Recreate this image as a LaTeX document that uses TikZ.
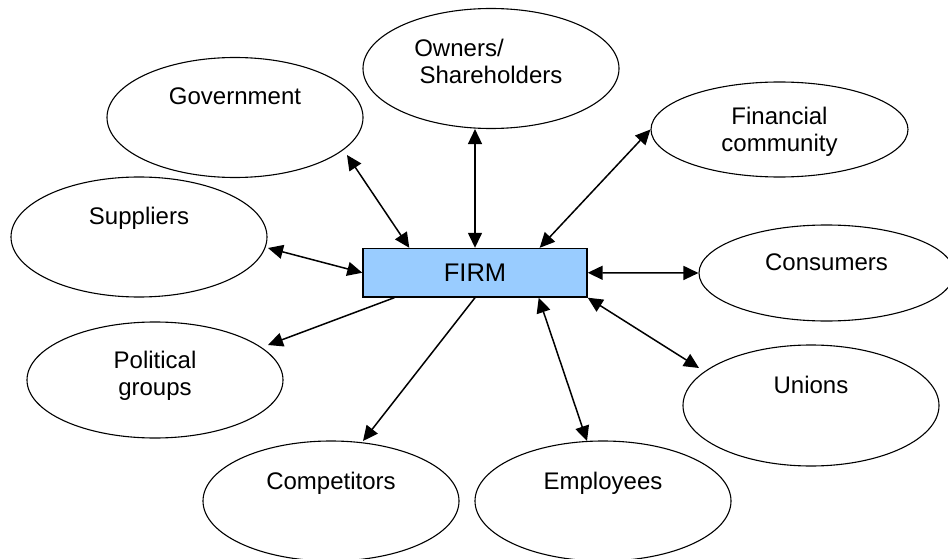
\documentclass[tikz,border=0pt]{standalone}
\usepackage{fontspec}
\setmainfont{Liberation Sans}
\usetikzlibrary{arrows.meta,calc,shapes.geometric}
\definecolor{firmblue}{RGB}{153,204,255}
\begin{document}
\begin{tikzpicture}[x=1pt,y=-1pt,
  ell/.style={draw, ellipse, minimum width=256pt, minimum height=120pt, inner sep=0pt, line width=1.1pt},
  lbl/.style={font=\fontsize{24}{27}\selectfont, anchor=base, inner sep=0pt},
  firmbox/.style={draw, fill=firmblue, minimum width=224pt, minimum height=48.5pt, inner sep=0pt, line width=1.4pt, font=\fontsize{25.5}{28}\selectfont},
  tipshape/.style={},
  conn/.style={line width=1.5pt, -{Triangle[length=15pt,width=14pt]}},
  biconn/.style={line width=1.5pt, {Triangle[length=15pt,width=14pt]}-{Triangle[length=15pt,width=14pt]}}]
\useasboundingbox (0,0) rectangle (948,559);

% stakeholder ellipses
\node[ell] (gov) at (235,117.5) {};
\node[ell] (own) at (491,68.5) {};
\node[ell, minimum height=95pt, minimum width=257pt] (fin) at (779.5,129.5) {};
\node[ell] (sup) at (139,237) {};
\node[ell, minimum height=96pt, minimum width=255pt] (con) at (826.5,273) {};
\node[ell, minimum height=116pt] (pol) at (155,380) {};
\node[ell, minimum height=121pt] (uni) at (811,405.5) {};
\node[ell] (com) at (331,501) {};
\node[ell] (emp) at (603,501) {};

% labels
\node[lbl] (govt) at (235,105) {Government};
\node[lbl] (ownt1) at (459,57) {Owners/};
\node[lbl] (ownt2) at (491,83.5) {Shareholders};
\node[lbl] (fint1) at (779.5,125) {Financial};
\node[lbl] (fint2) at (779.5,152) {community};
\node[lbl] (supt) at (139,224) {Suppliers};
\node[lbl] (cont) at (826.5,270) {Consumers};
\node[lbl] (polt1) at (155,368) {Political};
\node[lbl] (polt2) at (155,395) {groups};
\node[lbl] (unit) at (811,393) {Unions};
\node[lbl] (comt) at (331,489) {Competitors};
\node[lbl] (empt) at (603,489) {Employees};

% firm
\node[firmbox] (firm) at (475,272.75) {FIRM};

% connectors
\draw[biconn] ($(firm.north west)+(47,0)$) -- ($(gov.center)+(112,37.5)$);
\draw[biconn] (firm.north) -- (firm.north |- own.south);
\draw[biconn] ($(firm.north east)+(-48,0)$) -- (fin.west);
\draw[biconn] (firm.west) -- ($(sup.center)+(129,11)$);
\draw[biconn] (firm.east) -- (con.west);
\draw[biconn] (firm.south east) -- ($(uni.center)+(-112,-37.5)$);
\draw[biconn] ($(firm.south east)+(-49,0)$) -- ($(emp.center)+(-16,-60)$);
\draw[conn] (firm.south) -- ($(com.center)+(32,-60)$);
\draw[conn] ($(firm.south west)+(32,0)$) -- ($(pol.center)+(113,-35)$);
\end{tikzpicture}
\end{document}
